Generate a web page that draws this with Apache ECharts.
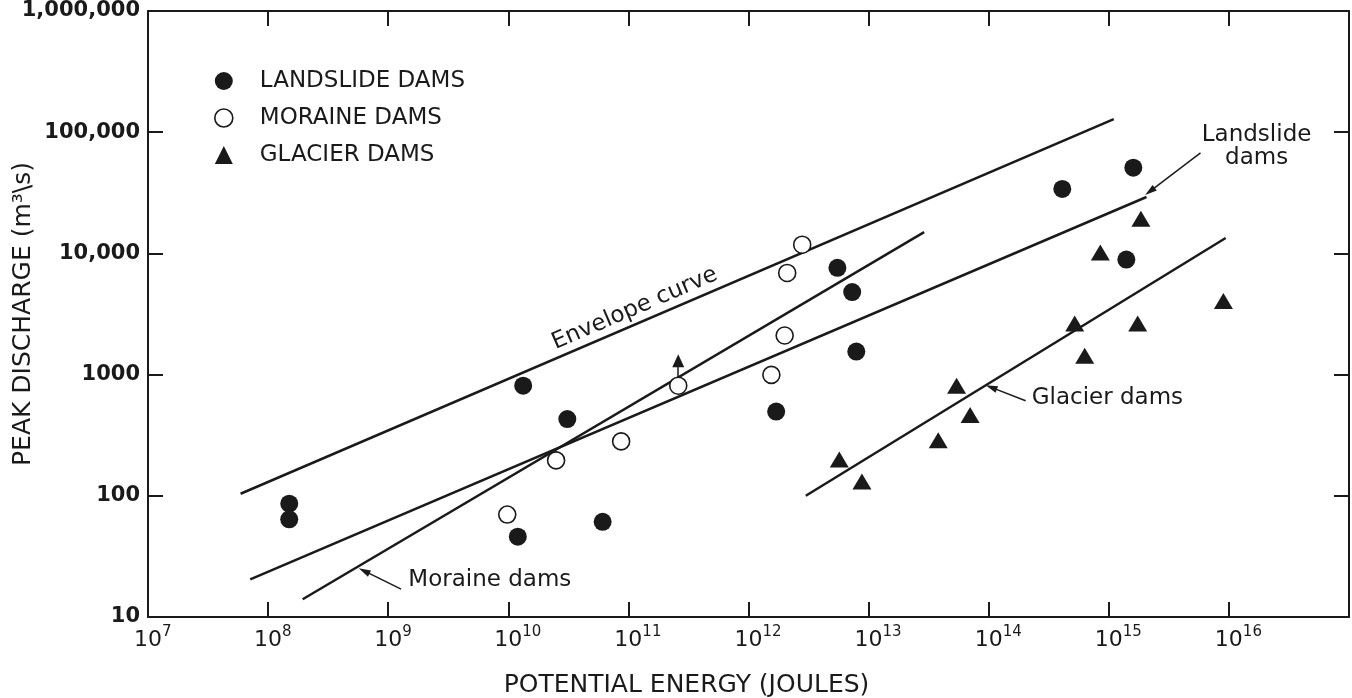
<!DOCTYPE html>
<html>
<head>
<meta charset="utf-8">
<title>Peak discharge and potential energy of dam failures</title>
<script src="https://cdn.jsdelivr.net/npm/echarts@6/dist/echarts.min.js"></script>
<style>
  html, body { margin: 0; padding: 0; background: #fff; }
  #main { width: 1352px; height: 698px; }
</style>
</head>
<body>
<div id="main"></div>
<script>
// [potential energy (J), peak discharge (m3/s)]
var landslideDams = [
  [1.5e8, 86], [1.5e8, 64], [1.33e10, 810], [3.1e10, 430], [1.2e10, 46], [6.1e10, 61],
  [1.7e12, 495], [5.5e12, 7600], [7.3e12, 4800], [7.9e12, 1550],
  [4.1e14, 34000], [1.4e15, 8900], [1.6e15, 51000]
];
var moraineDams = [
  [9.8e9, 70], [2.5e10, 196], [8.7e10, 281], [2.6e11, 810],
  [1.55e12, 995], [2.0e12, 2100], [2.1e12, 6900], [2.8e12, 11800]
];
var glacierDams = [
  [5.7e12, 199], [8.8e12, 131], [3.8e13, 287], [5.4e13, 810], [7.0e13, 465],
  [5.2e14, 2640], [6.3e14, 1430], [8.5e14, 10150], [1.74e15, 2640], [1.85e15, 19300], [9.0e15, 4040]
];
// the moraine point at 2.6e11 J is a minimum (arrow up)
var minimumArrow = [[2.6e11, 950], [2.6e11, 1300]];

// fitted lines, two ends each
var envelopeCurve = [[5.9e7, 104], [1.1e15, 128000]];
var landslideFit = [[7.1e7, 20.4], [2.06e15, 29200]];
var moraineFit = [[1.94e8, 14], [2.9e13, 15000]];
var glacierFit = [[3.0e12, 100], [9.4e15, 13400]];

// leader arrows for the line labels
var moraineLeader = [[1.28e9, 17], [6.3e8, 24]];
var glacierLeader = [[2.03e14, 608], [1.05e14, 785]];
var landslideLeader = [[5.8e15, 67600], [2.2e15, 32500]];

var seriesNames = ['LANDSLIDE DAMS', 'MORAINE DAMS', 'GLACIER DAMS'];
var notes = [
  { text: 'Envelope curve', at: [1.13e11, 3500], rotate: 23.3, align: 'center' },
  { text: 'Moraine dams', at: [1.47e9, 20], rotate: 0, align: 'left' },
  { text: 'Glacier dams', at: [2.28e14, 638], rotate: 0, align: 'left' },
  { text: 'Landslide\ndams', at: [1.7e16, 76700], rotate: 0, align: 'center' }
];

var ink = '#1a1a1a';
var font = 'DejaVu Sans';

function leader(pts) {
  return {
    silent: true,
    symbol: ['none', 'triangle'],
    symbolSize: [7, 12],
    label: { show: false },
    lineStyle: { type: 'solid', color: ink, width: 1.5 },
    data: [[{ coord: pts[0] }, { coord: pts[1] }]]
  };
}

function fitLine(name, data, mark) {
  var s = {
    name: name,
    type: 'line',
    data: data,
    symbol: 'none',
    silent: true,
    z: 2,
    lineStyle: { color: ink, width: 2.5 }
  };
  if (mark) s.markLine = mark;
  return s;
}

var chart = echarts.init(document.getElementById('main'));

var option = {
  animation: false,
  backgroundColor: '#fff',
  grid: { left: 148, right: 3, top: 11, bottom: 81, outerBoundsMode: 'none' },
  legend: {
    orient: 'vertical',
    left: 214,
    top: 69,
    padding: 0,
    itemWidth: 18,
    itemHeight: 18,
    itemGap: 13,
    selectedMode: false,
    textStyle: { fontFamily: font, fontSize: 23, color: ink, lineHeight: 24, padding: [0, 0, 0, 22] },
    data: [
      { name: seriesNames[0], icon: 'circle', itemStyle: { color: ink, borderWidth: 0 } },
      { name: seriesNames[1], icon: 'circle', itemStyle: { color: '#fff', borderColor: ink, borderWidth: 1.6 } },
      { name: seriesNames[2], icon: 'triangle', itemStyle: { color: ink, borderWidth: 0 } }
    ]
  },
  xAxis: [{
    type: 'log',
    logBase: 10,
    min: 1e7,
    max: 1e17,
    interval: 1,
    position: 'bottom',
    name: 'POTENTIAL ENERGY (JOULES)',
    nameLocation: 'middle',
    nameGap: 56,
    nameMoveOverlap: false,
    nameTextStyle: { fontFamily: font, fontSize: 25, color: ink, padding: [0, 124, 0, 0] },
    axisLine: { lineStyle: { color: ink, width: 2 } },
    axisTick: { inside: true, length: 15, lineStyle: { color: ink, width: 2 } },
    splitLine: { show: false },
    axisLabel: {
      margin: 8,
      showMaxLabel: false,
      formatter: function (v) {
        var e = String(Math.round(Math.log10(v)));
        return '{p' + e.length + '|\u00a0}{b|10}{s|' + e + '}';
      },
      rich: {
        b: { fontFamily: font, fontSize: 22, color: ink, lineHeight: 30 },
        s: { fontFamily: font, fontSize: 15, color: ink, lineHeight: 15, verticalAlign: 'top' },
        p1: { fontSize: 15, width: 9.5 },
        p2: { fontSize: 15, width: 19 }
      }
    }
  }, {
    type: 'log',
    logBase: 10,
    min: 1e7,
    max: 1e17,
    interval: 1,
    position: 'top',
    axisLine: { lineStyle: { color: ink, width: 2 } },
    axisTick: { inside: true, length: 15, lineStyle: { color: ink, width: 2 } },
    axisLabel: { show: false },
    splitLine: { show: false }
  }],
  yAxis: [{
    type: 'log',
    logBase: 10,
    min: 10,
    max: 1e6,
    interval: 1,
    position: 'left',
    name: 'PEAK DISCHARGE (m³\\s)',
    nameLocation: 'middle',
    nameRotate: 90,
    nameGap: 112,
    nameMoveOverlap: false,
    nameTextStyle: { fontFamily: font, fontSize: 25, color: ink },
    axisLine: { lineStyle: { color: ink, width: 2 } },
    axisTick: { inside: true, length: 15, lineStyle: { color: ink, width: 2 } },
    splitLine: { show: false },
    axisLabel: {
      margin: 8,
      fontFamily: font,
      fontSize: 21,
      fontWeight: 'bold',
      color: ink,
      formatter: function (v) {
        var n = Math.round(v);
        return n >= 10000 ? String(n).replace(/\B(?=(\d{3})+(?!\d))/g, ',') : String(n);
      }
    }
  }, {
    type: 'log',
    logBase: 10,
    min: 10,
    max: 1e6,
    interval: 1,
    position: 'right',
    axisLine: { lineStyle: { color: ink, width: 2 } },
    axisTick: { inside: true, length: 15, lineStyle: { color: ink, width: 2 } },
    axisLabel: { show: false },
    splitLine: { show: false }
  }],
  series: [
    {
      name: seriesNames[0],
      type: 'scatter',
      data: landslideDams,
      symbol: 'circle',
      symbolSize: 18,
      z: 4,
      itemStyle: { color: ink, opacity: 1 }
    },
    {
      name: seriesNames[1],
      type: 'scatter',
      data: moraineDams,
      symbol: 'circle',
      symbolSize: 17,
      z: 4,
      itemStyle: { color: '#fff', borderColor: ink, borderWidth: 1.6, opacity: 1 },
      markLine: {
        silent: true,
        symbol: ['none', 'triangle'],
        symbolSize: [12, 13],
        label: { show: false },
        lineStyle: { type: 'solid', color: ink, width: 1.5 },
        data: [[{ coord: minimumArrow[0] }, { coord: minimumArrow[1] }]]
      }
    },
    {
      name: seriesNames[2],
      type: 'scatter',
      data: glacierDams,
      symbol: 'triangle',
      symbolSize: [19, 16],
      z: 4,
      itemStyle: { color: ink, opacity: 1 }
    },
    fitLine('Envelope curve', envelopeCurve),
    fitLine('Landslide dams', landslideFit, leader(landslideLeader)),
    fitLine('Moraine dams', moraineFit, leader(moraineLeader)),
    fitLine('Glacier dams', glacierFit, leader(glacierLeader))
  ]
};

chart.setOption(option);

// line labels, placed at data coordinates
var labels = notes.map(function (n) {
  var p = chart.convertToPixel({ seriesIndex: 0 }, n.at);
  return {
    type: 'text',
    x: p[0],
    y: p[1],
    rotation: n.rotate * Math.PI / 180,
    silent: true,
    style: {
      text: n.text,
      font: '23px "' + font + '"',
      fill: ink,
      align: n.align,
      verticalAlign: 'middle',
      lineHeight: 23
    }
  };
});
chart.setOption({ graphic: labels });
window.onresize = chart.resize;
</script>
</body>
</html>
